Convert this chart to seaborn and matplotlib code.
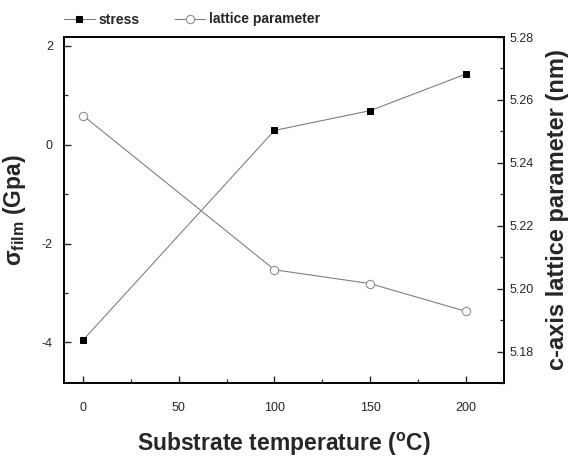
import matplotlib
matplotlib.use("Agg")
import matplotlib.pyplot as plt
import seaborn as sns
import pandas as pd
from matplotlib.ticker import MultipleLocator

temperature = [0, 100, 150, 200]
stress = [-3.95, 0.29, 0.69, 1.43]
lattice = [5.255, 5.206, 5.2016, 5.1928]
left_ticks = [-4, -2, 0, 2]
right_ticks = [5.18, 5.20, 5.22, 5.24, 5.26, 5.28]
x_ticks = [0, 50, 100, 150, 200]

sns.set_style("ticks")
plt.rcParams['font.family'] = ['Liberation Sans', 'DejaVu Sans']
plt.rcParams['mathtext.fontset'] = 'custom'
plt.rcParams['mathtext.rm'] = 'Liberation Sans'
plt.rcParams['mathtext.bf'] = 'Liberation Sans:bold'
plt.rcParams['axes.unicode_minus'] = False

df = pd.DataFrame({"T": temperature, "stress": stress, "lattice": lattice})

fig = plt.figure(figsize=(5.73, 4.57), dpi=100)
ax = fig.add_axes([0.1117, 0.1619, 0.7679, 0.7571])
ax2 = ax.twinx()

sns.lineplot(data=df, x="T", y="stress", ax=ax, color="#808080", lw=0.8,
             marker="s", markersize=5, markerfacecolor="black",
             markeredgecolor="black", label="stress", legend=False)
sns.lineplot(data=df, x="T", y="lattice", ax=ax2, color="#808080", lw=0.8,
             marker="o", markersize=6, markerfacecolor="white",
             markeredgecolor="#909090", markeredgewidth=0.8,
             label="lattice parameter", legend=False)

ax.set_xlim(-10, 220)
ax.set_ylim(-4.82, 2.18)
ax2.set_ylim(5.17, 5.28)

ax.set_xticks(x_ticks)
ax.set_yticks(left_ticks)
ax2.set_yticks(right_ticks)
ax2.set_yticklabels([f"{v:.2f}" for v in right_ticks])
ax.xaxis.set_minor_locator(MultipleLocator(25))
ax.yaxis.set_minor_locator(MultipleLocator(1))
ax2.yaxis.set_minor_locator(MultipleLocator(0.01))

for a in (ax, ax2):
    a.tick_params(which="major", direction="in", length=5, width=1.0, labelsize=9)
    a.tick_params(which="minor", direction="in", length=3, width=0.9)
    for s in a.spines.values():
        s.set_linewidth(1.2)
        s.set_color("black")
ax.tick_params(axis="x", top=False, pad=14)
ax.tick_params(axis="y", right=False, pad=8)
ax2.tick_params(axis="y", left=False, pad=4)

ax.set_xlabel(r"Substrate temperature ($\mathbf{^{o}}$C)", fontsize=16.5, fontweight="bold", labelpad=12)
ax.set_ylabel(r"σ$_{\mathbf{film}}$ (Gpa)", fontsize=16.5, fontweight="bold", labelpad=10)
ax2.set_ylabel("c-axis lattice parameter (nm)", fontsize=17, fontweight="bold", labelpad=9)

h1, l1 = ax.get_legend_handles_labels()
h2, l2 = ax2.get_legend_handles_labels()
fig.legend(h1 + h2, l1 + l2, loc="upper left", bbox_to_anchor=(0.09, 1.0),
           ncol=2, frameon=False, handlelength=2.2, handletextpad=0.3,
           columnspacing=2.5, prop={"size": 10, "weight": "bold"})

fig.savefig("out.png", dpi=100)
